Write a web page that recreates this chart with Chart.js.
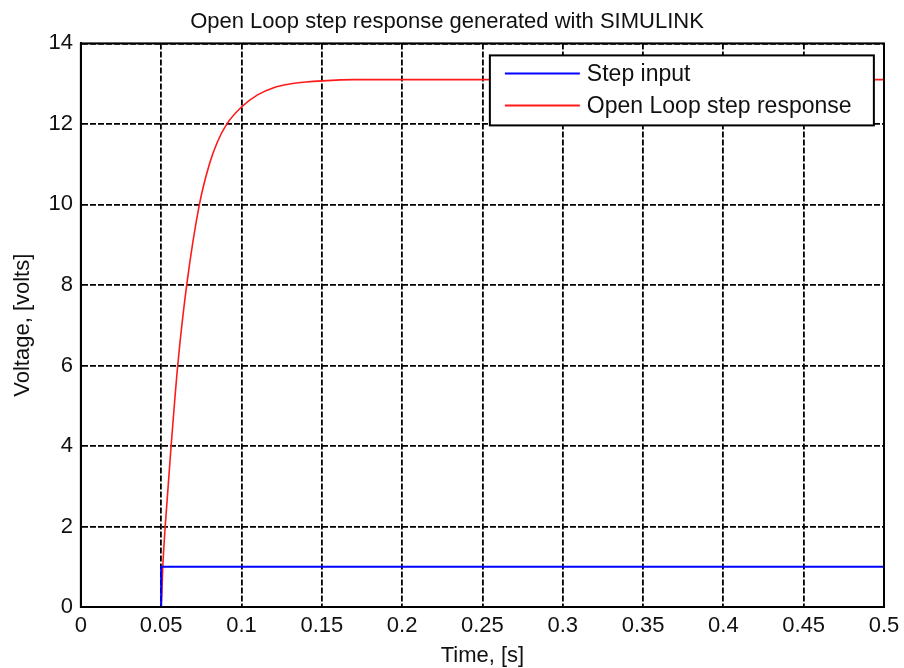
<!DOCTYPE html>
<html>
<head>
<meta charset="utf-8">
<script src="https://cdn.jsdelivr.net/npm/chart.js@4.4.0/dist/chart.umd.min.js"></script>
<style>
  html, body { margin: 0; padding: 0; background: #fff; }
  #wrap { width: 904px; height: 668px; }
</style>
</head>
<body>
<div id="wrap"><canvas id="stepChart" width="904" height="668"></canvas></div>
<script>
// 데이터: 그림에서 읽은 값
const stepTimes = [0, 0.05, 0.05, 0.5];
const stepValues = [0, 0, 1, 1];

const respTimes = [0, 0.05, 0.051, 0.0525, 0.0562, 0.0603, 0.0659, 0.0738, 0.08, 0.085, 0.0909,
                   0.1, 0.11, 0.12, 0.13, 0.14, 0.15, 0.17, 0.2, 0.3, 0.5];
const respValues = [0, 0, 1.0, 2.0, 4.0, 6.0, 8.0, 10.0, 11.0, 11.55, 12.0,
                    12.42, 12.72, 12.9, 12.99, 13.04, 13.07, 13.1, 13.1, 13.1, 13.1];

const xTicks = [0, 0.05, 0.1, 0.15, 0.2, 0.25, 0.3, 0.35, 0.4, 0.45, 0.5];
const yTicks = [0, 2, 4, 6, 8, 10, 12, 14];

const seriesLabels = ['Step input', 'Open Loop step response'];

const FONT = '"Liberation Sans", Arial, sans-serif';

const toPoints = (xs, ys) => xs.map((x, i) => ({ x: x, y: ys[i] }));

// 축 상자 (위/오른쪽 테두리 포함)
const boxPlugin = {
    id: 'box',
    afterDatasetsDraw(chart) {
        const { ctx, chartArea: a } = chart;
        ctx.save();
        ctx.strokeStyle = '#000';
        ctx.lineWidth = 2;
        ctx.strokeRect(a.left, a.top, a.right - a.left, a.bottom - a.top);
        ctx.restore();
    }
};

// 차트 안쪽 범례 (오른쪽 위)
const insideLegend = {
    id: 'insideLegend',
    afterDraw(chart) {
        const { ctx, chartArea: a } = chart;
        const x = a.left + 409, y = a.top + 12, w = 384, h = 70;
        ctx.save();
        ctx.fillStyle = '#fff';
        ctx.fillRect(x, y, w, h);
        ctx.strokeStyle = '#000';
        ctx.lineWidth = 2;
        ctx.strokeRect(x, y, w, h);
        ctx.font = '23px ' + FONT;
        ctx.textBaseline = 'middle';
        chart.data.datasets.forEach((ds, i) => {
            const ly = y + 18 + i * 32;
            ctx.strokeStyle = ds.borderColor;
            ctx.lineWidth = 2;
            ctx.beginPath();
            ctx.moveTo(x + 15, ly);
            ctx.lineTo(x + 90, ly);
            ctx.stroke();
            ctx.fillStyle = '#111';
            ctx.fillText(ds.label, x + 97, ly + 1);
        });
        ctx.restore();
    }
};

function renderStepChart() {
    const ctx = document.getElementById('stepChart').getContext('2d');
    new Chart(ctx, {
        type: 'line',
        data: {
            datasets: [{
                label: seriesLabels[0],
                data: toPoints(stepTimes, stepValues),
                borderColor: '#0000ff',
                borderWidth: 2,
                pointRadius: 0,
                tension: 0
            }, {
                label: seriesLabels[1],
                data: toPoints(respTimes, respValues),
                borderColor: '#ff1a1a',
                borderWidth: 1.6,
                pointRadius: 0,
                cubicInterpolationMode: 'monotone'
            }]
        },
        options: {
            responsive: false,
            animation: false,
            layout: { padding: { left: 10, right: 20, top: 4, bottom: 1 } },
            plugins: {
                legend: { display: false },
                tooltip: { enabled: false },
                title: {
                    display: true,
                    text: 'Open Loop step response generated with SIMULINK',
                    color: '#111',
                    font: { family: FONT, size: 22, weight: 'normal' },
                    padding: { top: 5, bottom: 8 }
                }
            },
            scales: {
                x: {
                    type: 'linear',
                    min: 0,
                    max: 0.5,
                    afterBuildTicks: (axis) => { axis.ticks = xTicks.map(v => ({ value: v })); },
                    afterFit: (axis) => { axis.paddingRight = 2; },
                    ticks: {
                        color: '#111',
                        padding: 8,
                        maxRotation: 0,
                        font: { family: FONT, size: 22, lineHeight: 1 },
                        callback: (v) => String(+v.toFixed(2))
                    },
                    grid: { color: '#000', lineWidth: 1.8, drawTicks: false },
                    border: { display: true, color: '#000', width: 2, dash: [6, 2] },
                    title: {
                        display: true,
                        text: 'Time, [s]',
                        color: '#111',
                        font: { family: FONT, size: 22, lineHeight: 1 },
                        padding: { top: 0, bottom: 0 }
                    }
                },
                y: {
                    min: 0,
                    max: 14,
                    afterBuildTicks: (axis) => { axis.ticks = yTicks.map(v => ({ value: v })); },
                    ticks: {
                        color: '#111',
                        padding: 8,
                        font: { family: FONT, size: 22 }
                    },
                    grid: { color: '#000', lineWidth: 1.8, drawTicks: false },
                    border: { display: true, color: '#000', width: 2, dash: [6, 2] },
                    title: {
                        display: true,
                        text: 'Voltage, [volts]',
                        color: '#111',
                        font: { family: FONT, size: 22 },
                        padding: { top: 0, bottom: 4 }
                    }
                }
            }
        },
        plugins: [boxPlugin, insideLegend]
    });
}

renderStepChart();
</script>
</body>
</html>
